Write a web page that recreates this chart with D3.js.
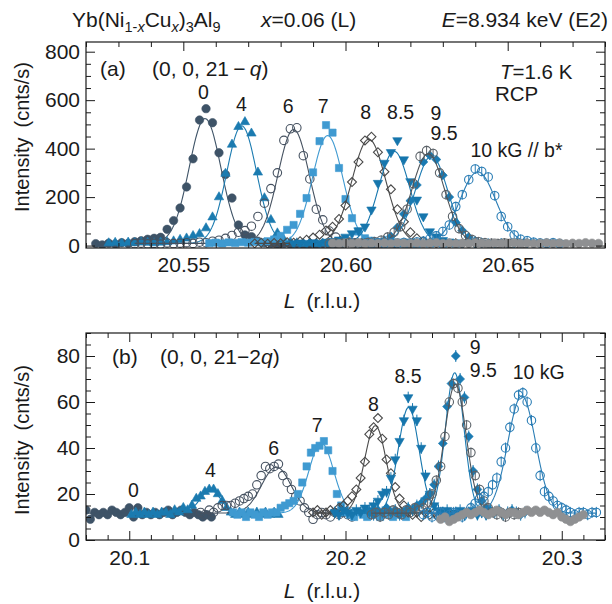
<!DOCTYPE html>
<html>
<head>
<meta charset="utf-8">
<script src="https://cdn.jsdelivr.net/npm/d3@7"></script>
<style>
  body { margin: 0; background: #fff; }
  text { font-family: "Liberation Sans", Arial, Helvetica, sans-serif; fill: #1a1a1a; }
</style>
</head>
<body>
<svg id="chart" width="612" height="604"></svg>
<script>
// ---------- data: [L (r.l.u.), intensity (cnts/s)] ----------
const fields = ['0', '4', '6', '7', '8', '8.5', '9', '9.5', '10', 'bg'];

// panel (a): (0, 0, 21 - q)
const topScan0 = [[20.523,8],[20.525,3],[20.527,10],[20.529,6],[20.531,12],[20.533,9],[20.535,16],[20.537,20],[20.539,26],[20.541,30],[20.543,34],[20.545,67],[20.547,103],[20.549,155],[20.551,242],[20.553,358],[20.555,518],[20.557,565],[20.559,507],[20.561,383],[20.563,293],[20.565,196],[20.567,85],[20.569,44],[20.571,37],[20.573,18],[20.575,12],[20.577,9],[20.579,6],[20.581,8],[20.583,5],[20.585,7],[20.587,4],[20.589,6],[20.591,5],[20.593,7],[20.595,4],[20.597,6]];
const topScan4 = [[20.527,10],[20.529,12],[20.531,9],[20.533,13],[20.535,11],[20.537,14],[20.539,12],[20.541,10],[20.543,13],[20.545,15],[20.547,18],[20.549,24],[20.551,30],[20.553,40],[20.555,48],[20.557,72],[20.559,117],[20.561,200],[20.563,297],[20.565,417],[20.567,490],[20.569,510],[20.571,463],[20.573,302],[20.575,196],[20.577,106],[20.579,51],[20.581,23],[20.583,14],[20.585,10],[20.587,8],[20.589,11],[20.591,7],[20.593,9],[20.595,6],[20.597,8],[20.599,7],[20.601,9],[20.603,6],[20.605,8]];
const topScan6 = [[20.535,8],[20.537,10],[20.539,7],[20.541,9],[20.543,6],[20.545,11],[20.547,8],[20.549,10],[20.551,12],[20.553,9],[20.555,14],[20.557,12],[20.559,18],[20.561,22],[20.563,30],[20.565,42],[20.567,55],[20.569,62],[20.571,80],[20.573,120],[20.575,175],[20.577,235],[20.579,300],[20.581,434],[20.583,482],[20.585,486],[20.587,371],[20.589,275],[20.591,150],[20.593,106],[20.595,60],[20.597,35],[20.599,22],[20.601,15],[20.603,12],[20.605,9],[20.607,11],[20.609,8],[20.611,10],[20.613,7],[20.615,9],[20.617,6],[20.619,8],[20.621,7]];
const topScan7 = [[20.558,10],[20.560,12],[20.562,9],[20.564,13],[20.566,11],[20.568,14],[20.570,12],[20.572,15],[20.574,13],[20.576,18],[20.578,25],[20.580,40],[20.582,65],[20.584,85],[20.586,131],[20.588,196],[20.590,302],[20.592,431],[20.594,497],[20.596,466],[20.598,320],[20.600,192],[20.602,113],[20.604,58],[20.606,30],[20.608,20],[20.610,14],[20.612,11],[20.614,9],[20.616,12],[20.618,8],[20.620,10],[20.622,7],[20.624,9],[20.626,8],[20.628,10],[20.630,7],[20.632,9],[20.634,8]];
const topScan8 = [[20.572,9],[20.574,12],[20.576,8],[20.578,11],[20.580,10],[20.582,14],[20.584,12],[20.586,18],[20.588,24],[20.590,33],[20.592,45],[20.594,62],[20.596,78],[20.598,110],[20.600,165],[20.602,262],[20.604,345],[20.606,434],[20.608,449],[20.610,385],[20.612,305],[20.614,232],[20.616,150],[20.618,98],[20.620,55],[20.622,30],[20.624,18],[20.626,12],[20.628,9],[20.630,11],[20.632,8],[20.634,10],[20.636,7],[20.638,9],[20.640,8]];
const topScan85 = [[20.584,9],[20.586,12],[20.588,10],[20.590,13],[20.592,11],[20.594,15],[20.596,18],[20.598,24],[20.600,36],[20.602,50],[20.604,62],[20.606,78],[20.608,148],[20.610,258],[20.612,341],[20.614,385],[20.616,434],[20.618,355],[20.620,265],[20.622,189],[20.624,120],[20.626,58],[20.628,37],[20.630,22],[20.632,16],[20.634,12],[20.636,10],[20.638,13],[20.640,9],[20.642,11],[20.644,8],[20.646,10],[20.648,12],[20.650,9],[20.652,11],[20.654,8],[20.656,10],[20.658,12],[20.660,9],[20.662,11],[20.664,8],[20.666,10]];
const topScan9 = [[20.596,9],[20.598,12],[20.600,10],[20.602,14],[20.604,11],[20.606,13],[20.608,16],[20.610,14],[20.612,22],[20.614,38],[20.616,75],[20.618,130],[20.620,185],[20.622,250],[20.624,345],[20.626,372],[20.628,355],[20.630,290],[20.632,200],[20.634,95],[20.636,62],[20.638,35],[20.640,20],[20.642,14],[20.644,11],[20.646,9],[20.648,12],[20.650,8],[20.652,10],[20.654,9],[20.656,11],[20.658,8],[20.660,10],[20.662,9],[20.664,11],[20.666,8]];
const topScan95 = [[20.595,8],[20.597,11],[20.599,9],[20.601,12],[20.603,10],[20.605,9],[20.607,13],[20.609,16],[20.611,22],[20.613,35],[20.615,55],[20.617,78],[20.619,150],[20.621,255],[20.623,368],[20.625,392],[20.627,380],[20.629,300],[20.631,210],[20.633,120],[20.635,70],[20.637,42],[20.639,25],[20.641,16],[20.643,12],[20.645,10],[20.647,8],[20.649,11],[20.651,9],[20.653,10],[20.655,8]];
const topScan10 = [[20.608,9],[20.610,11],[20.612,8],[20.614,12],[20.616,10],[20.618,13],[20.620,11],[20.622,15],[20.624,18],[20.626,28],[20.628,40],[20.630,58],[20.632,85],[20.634,161],[20.636,210],[20.638,272],[20.640,316],[20.642,306],[20.644,283],[20.646,206],[20.648,120],[20.650,78],[20.652,44],[20.654,26],[20.656,20],[20.658,14],[20.660,11],[20.662,9],[20.664,12],[20.666,8]];
const topScanBg = [[20.596,10],[20.598,8],[20.600,11],[20.602,9],[20.604,12],[20.606,8],[20.608,10],[20.610,9],[20.612,11],[20.614,8],[20.616,12],[20.618,10],[20.620,9],[20.622,11],[20.624,8],[20.626,10],[20.628,12],[20.630,9],[20.632,11],[20.634,8],[20.636,10],[20.638,9],[20.640,12],[20.642,10],[20.644,8],[20.646,11],[20.648,9],[20.650,10],[20.652,12],[20.654,9],[20.656,11],[20.658,8],[20.660,10],[20.662,12],[20.664,9],[20.666,11],[20.668,8],[20.670,10],[20.672,9],[20.674,12],[20.676,10],[20.678,9]];

// panel (b): (0, 0, 21 - 2q)
const botScan0 = [[20.080,13],[20.082,9],[20.084,12],[20.086,11],[20.088,12],[20.090,11],[20.092,13],[20.094,12],[20.096,11],[20.098,12],[20.100,14],[20.102,10],[20.104,14],[20.106,11],[20.108,12],[20.110,11],[20.112,12],[20.114,11],[20.116,12],[20.118,13],[20.120,11],[20.122,12],[20.124,13],[20.126,12],[20.128,11],[20.130,12],[20.132,11],[20.134,10],[20.136,11],[20.138,10]];
const botScan4 = [[20.101,11],[20.103,12],[20.105,11],[20.107,12],[20.109,11],[20.111,12],[20.113,11],[20.115,12],[20.117,12],[20.119,11],[20.121,13],[20.123,12],[20.125,14],[20.127,13],[20.129,15],[20.131,18],[20.133,19],[20.135,21],[20.137,22],[20.139,22],[20.141,20],[20.143,17],[20.145,14],[20.147,12],[20.149,11],[20.151,12],[20.153,11],[20.155,12],[20.157,11],[20.159,12],[20.161,11],[20.163,12],[20.165,11],[20.167,12],[20.169,11]];
const botScan6 = [[20.133,12],[20.135,11],[20.137,13],[20.139,12],[20.141,14],[20.143,15],[20.145,15],[20.147,15],[20.149,16],[20.151,17],[20.153,18],[20.155,19],[20.157,20],[20.159,24],[20.161,28],[20.163,32],[20.165,31],[20.167,32],[20.169,33],[20.171,28],[20.173,25],[20.175,22],[20.177,19],[20.179,17],[20.181,14],[20.183,12],[20.185,9],[20.187,11],[20.189,12],[20.191,11],[20.193,10],[20.195,12],[20.197,11],[20.199,12],[20.201,11],[20.203,10]];
const botScan7 = [[20.148,12],[20.150,11],[20.152,12],[20.154,10],[20.156,12],[20.158,11],[20.160,10],[20.162,12],[20.164,11],[20.166,12],[20.168,12],[20.170,14],[20.172,15],[20.174,16],[20.176,17],[20.178,20],[20.180,25],[20.182,32],[20.184,38],[20.186,40],[20.188,41],[20.190,43],[20.192,39],[20.194,30],[20.196,20],[20.198,15],[20.200,12],[20.202,11],[20.204,10],[20.206,12],[20.208,11],[20.210,10],[20.212,12],[20.214,11],[20.216,10],[20.218,11],[20.220,12],[20.222,10],[20.224,11],[20.226,12],[20.228,10]];
const botScan8 = [[20.185,12],[20.187,13],[20.189,11],[20.191,12],[20.193,13],[20.195,12],[20.197,14],[20.199,15],[20.201,17],[20.203,19],[20.205,22],[20.207,27],[20.209,34],[20.211,46],[20.213,49],[20.215,53],[20.217,44],[20.219,35],[20.221,29],[20.223,23],[20.225,18],[20.227,15],[20.229,12],[20.231,11],[20.233,12],[20.235,10],[20.237,12],[20.239,11],[20.241,12],[20.243,10],[20.245,11],[20.247,12]];
const botScan85 = [[20.195,12],[20.197,11],[20.199,13],[20.201,12],[20.203,11],[20.205,13],[20.207,12],[20.209,14],[20.211,13],[20.213,15],[20.215,17],[20.217,20],[20.219,21],[20.221,27],[20.223,35],[20.225,43],[20.227,52],[20.229,62],[20.231,57],[20.233,52],[20.235,40],[20.237,28],[20.239,20],[20.241,15],[20.243,13],[20.245,12],[20.247,13],[20.249,11],[20.251,12],[20.253,13],[20.255,11],[20.257,12],[20.259,13],[20.261,11],[20.263,12],[20.265,11],[20.267,12]];
const botScan9 = [[20.211,12],[20.213,11],[20.215,13],[20.217,12],[20.219,14],[20.221,12],[20.223,13],[20.225,11],[20.227,12],[20.229,14],[20.231,13],[20.233,15],[20.235,16],[20.237,18],[20.239,20],[20.241,24],[20.243,32],[20.245,42],[20.247,58],[20.249,68],[20.251,80],[20.253,70],[20.255,62],[20.257,45],[20.259,30],[20.261,22],[20.263,17],[20.265,14],[20.267,13],[20.269,12],[20.271,13],[20.273,11],[20.275,12],[20.277,13],[20.279,12],[20.281,11],[20.283,12]];
const botScan95 = [[20.212,11],[20.214,12],[20.216,10],[20.218,12],[20.220,11],[20.222,13],[20.224,12],[20.226,11],[20.228,13],[20.230,12],[20.232,14],[20.234,13],[20.236,14],[20.238,16],[20.240,20],[20.242,26],[20.244,32],[20.246,45],[20.248,60],[20.250,68],[20.252,66],[20.254,60],[20.256,50],[20.258,38],[20.260,28],[20.262,22],[20.264,17],[20.266,14],[20.268,12],[20.270,11],[20.272,12],[20.274,10],[20.276,12],[20.278,11],[20.280,12]];
const botScan10 = [[20.236,11],[20.238,12],[20.240,10],[20.242,11],[20.244,12],[20.246,10],[20.248,11],[20.250,12],[20.252,11],[20.254,10],[20.256,12],[20.258,14],[20.260,16],[20.262,18],[20.264,19],[20.266,21],[20.268,24],[20.270,27],[20.272,34],[20.274,40],[20.276,49],[20.278,57],[20.280,63],[20.282,64],[20.284,60],[20.286,52],[20.288,40],[20.290,28],[20.292,21],[20.294,19],[20.296,17],[20.298,15],[20.300,14],[20.302,13],[20.304,12],[20.306,11],[20.308,12],[20.310,12],[20.312,11],[20.314,12],[20.316,12]];
const botScanBg = [[20.244,9],[20.246,10],[20.248,8],[20.250,9],[20.252,10],[20.254,11],[20.256,12],[20.258,11],[20.260,12],[20.262,13],[20.264,12],[20.266,11],[20.268,12],[20.270,13],[20.272,12],[20.274,11],[20.276,12],[20.278,12],[20.280,11],[20.282,12],[20.284,13],[20.286,12],[20.288,13],[20.290,12],[20.292,13],[20.294,12],[20.296,11],[20.298,12],[20.300,10],[20.302,9],[20.304,8],[20.306,9],[20.308,10],[20.310,11]];

const topScans = [topScan0, topScan4, topScan6, topScan7, topScan8, topScan85, topScan9, topScan95, topScan10, topScanBg];
const botScans = [botScan0, botScan4, botScan6, botScan7, botScan8, botScan85, botScan9, botScan95, botScan10, botScanBg];

// gaussian fits: centre, amplitude above background, sigma (null = no fit drawn)
const topFitCenter = [20.5567, 20.5680, 20.5840, 20.5945, 20.6072, 20.6150, 20.6265, 20.6255, 20.6408, null];
const topFitAmp    = [515, 485, 470, 445, 430, 380, 360, 370, 295, 0];
const topFitSigma  = [0.0049, 0.0046, 0.0048, 0.0047, 0.0052, 0.0048, 0.0050, 0.0050, 0.0055, 0];
const topFitBg = 9;
const botFitCenter = [20.110, 20.1375, 20.1680, 20.1888, 20.2138, 20.2292, 20.2505, 20.2508, 20.2815, null];
const botFitAmp    = [0, 10, 20, 30.5, 38, 46, 61, 56, 51, 0];
const botFitSigma  = [0.005, 0.0048, 0.0068, 0.0057, 0.0050, 0.0048, 0.0043, 0.0050, 0.0064, 0];
const botFitBg = 11.7;

// error bars (cnts/s), per field
const topErr = [0, 0, 0, 0, 0, 0, 0, 20, 20, 0];
const botErr = [0, 0, 0, 0, 0, 2.5, 2.6, 2.2, 2.4, 0];

// axis ticks
const topXTicks = [20.55, 20.60, 20.65];
const topYTicks = [0, 200, 400, 600, 800];
const botXTicks = [20.1, 20.2, 20.3];
const botYTicks = [0, 20, 40, 60, 80];

// ---------- styles ----------
const markerStyle = [
  { shape: 'circle',  fill: '#3e5367', stroke: '#3e5367', line: '#3e5367' },
  { shape: 'tri',     fill: '#1b7bb0', stroke: '#1b7bb0', line: '#1b7bb0' },
  { shape: 'circle',  fill: '#fff',    stroke: '#465261', line: '#465261' },
  { shape: 'square',  fill: '#3f9ad1', stroke: '#3f9ad1', line: '#3f9ad1' },
  { shape: 'diamond', fill: '#fff',    stroke: '#4a4a4a', line: '#4a4a4a' },
  { shape: 'triDown', fill: '#1676ad', stroke: '#1676ad', line: '#1676ad' },
  { shape: 'diamond', fill: '#1a7ab2', stroke: '#1a7ab2', line: '#1a7ab2' },
  { shape: 'circle',  fill: '#fff',    stroke: '#5b6268', line: '#4f5459' },
  { shape: 'circle',  fill: '#fff',    stroke: '#2a7db5', line: '#2a7db5' },
  { shape: 'circle',  fill: '#8f9092', stroke: '#8f9092', line: null }
];

const symbolFor = {
  circle:  d3.symbol(d3.symbolCircle, 56),
  tri:     d3.symbol(d3.symbolTriangle, 38),
  triDown: d3.symbol(d3.symbolTriangle, 38),
  square:  d3.symbol(d3.symbolSquare, 52),
  diamond: d3.symbol(d3.symbolSquare, 40)
};
const rotateFor = { triDown: 180, diamond: 45 };

const svg = d3.select('#chart');
const plotLeft = 86, plotRight = 605;
const tickFont = 21;

function drawPanel(p) {
  const x = d3.scaleLinear().domain(p.xDomain).range([plotLeft, plotRight]);
  const y = d3.scaleLinear().domain(p.yDomain).range([p.bottom, p.top]);
  const g = svg.append('g');

  g.append('clipPath').attr('id', p.id + '-clip')
    .append('rect')
    .attr('x', plotLeft).attr('y', p.top)
    .attr('width', plotRight - plotLeft).attr('height', p.bottom - p.top);

  const data = g.append('g').attr('clip-path', `url(#${p.id}-clip)`);

  p.scans.forEach((scan, i) => {
    const st = markerStyle[i];
    const sg = data.append('g').attr('class', 'series-' + fields[i]);

    if (p.err[i] > 0) {
      sg.selectAll('line.err')
        .data(scan)
        .join('line')
        .attr('class', 'err')
        .attr('x1', d => x(d[0])).attr('x2', d => x(d[0]))
        .attr('y1', d => y(d[1] - p.err[i])).attr('y2', d => y(d[1] + p.err[i]))
        .attr('stroke', st.stroke).attr('stroke-width', 1);
    }

    const sym = symbolFor[st.shape];
    const rot = rotateFor[st.shape] || 0;
    sg.selectAll('path.pt')
      .data(scan)
      .join('path')
      .attr('class', 'pt')
      .attr('d', sym)
      .attr('transform', d => `translate(${x(d[0])},${y(d[1])}) rotate(${rot})`)
      .attr('fill', st.fill)
      .attr('fill-opacity', st.fill === '#fff' ? 0 : 1)
      .attr('stroke', st.stroke)
      .attr('stroke-width', st.fill === '#fff' ? 1.1 : 0.6);

    if (p.fitCenter[i] !== null && st.line) {
      const [l0, l1] = d3.extent(scan, d => d[0]);
      const c = p.fitCenter[i], a = p.fitAmp[i], s = p.fitSigma[i];
      const fit = d3.range(0, 241).map(k => {
        const L = l0 + (l1 - l0) * k / 240;
        return [L, p.fitBg + a * Math.exp(-((L - c) ** 2) / (2 * s * s))];
      });
      sg.append('path')
        .datum(fit)
        .attr('fill', 'none')
        .attr('stroke', st.line)
        .attr('stroke-width', 1.1)
        .attr('d', d3.line().x(d => x(d[0])).y(d => y(d[1])));
    }
  });

  // axes: inward ticks on all four sides
  const xMinor = d3.range(Math.round(p.xDomain[0] * 100), Math.round(p.xDomain[1] * 100) + 1)
    .map(v => v / 100).filter(v => !p.xTicks.some(t => Math.abs(t - v) < 1e-6));
  const yMinor = d3.range(p.yDomain[0] < 0 ? 0 : p.yDomain[0], p.yDomain[1] + 1e-6, p.yMinorStep)
    .filter(v => !p.yTicks.includes(v));

  const style = ax => {
    ax.select('.domain').remove();
    ax.attr('font-size', tickFont).attr('font-family', null);
    ax.selectAll('line').attr('stroke', '#1a1a1a').attr('stroke-width', 1);
  };

  g.append('g').attr('transform', `translate(0,${p.bottom})`)
    .call(d3.axisBottom(x).tickValues(p.xTicks).tickFormat(d3.format(p.xFmt))
      .tickSize(-9).tickSizeOuter(0).tickPadding(p.xPad)).call(style);
  g.append('g').attr('transform', `translate(0,${p.bottom})`)
    .call(d3.axisBottom(x).tickValues(xMinor).tickFormat('').tickSize(-5).tickSizeOuter(0)).call(style);
  g.append('g').attr('transform', `translate(0,${p.top})`)
    .call(d3.axisTop(x).tickValues(p.xTicks).tickFormat('').tickSize(-9).tickSizeOuter(0)).call(style);
  g.append('g').attr('transform', `translate(0,${p.top})`)
    .call(d3.axisTop(x).tickValues(xMinor).tickFormat('').tickSize(-5).tickSizeOuter(0)).call(style);

  g.append('g').attr('transform', `translate(${plotLeft},0)`)
    .call(d3.axisLeft(y).tickValues(p.yTicks).tickSize(-9).tickSizeOuter(0).tickPadding(6)).call(style);
  g.append('g').attr('transform', `translate(${plotLeft},0)`)
    .call(d3.axisLeft(y).tickValues(yMinor).tickFormat('').tickSize(-5).tickSizeOuter(0)).call(style);
  g.append('g').attr('transform', `translate(${plotRight},0)`)
    .call(d3.axisRight(y).tickValues(p.yTicks).tickFormat('').tickSize(-9).tickSizeOuter(0)).call(style);
  g.append('g').attr('transform', `translate(${plotRight},0)`)
    .call(d3.axisRight(y).tickValues(yMinor).tickFormat('').tickSize(-5).tickSizeOuter(0)).call(style);

  g.append('rect')
    .attr('x', plotLeft).attr('y', p.top)
    .attr('width', plotRight - plotLeft).attr('height', p.bottom - p.top)
    .attr('fill', 'none').attr('stroke', '#1a1a1a').attr('stroke-width', 1.2);

  // peak labels
  p.labels.forEach(lb => {
    g.append('text')
      .attr('x', x(lb.L)).attr('y', y(lb.v))
      .attr('text-anchor', lb.anchor || 'middle')
      .attr('font-size', 19.5)
      .text(lb.t);
  });

  // axis titles
  g.append('text')
    .attr('transform', `translate(29,${p.yTitleMid}) rotate(-90)`)
    .attr('text-anchor', 'middle').attr('font-size', 20)
    .text('Intensity\u2002(cnts/s)');

  const xt = g.append('text')
    .attr('x', 322).attr('y', p.xTitleY)
    .attr('text-anchor', 'middle').attr('font-size', 21);
  xt.append('tspan').attr('font-style', 'italic').text('L');
  xt.append('tspan').attr('dx', 11).text('(r.l.u.)');

  return { x, y, g };
}

const panelA = drawPanel({
  id: 'a', top: 42, bottom: 248,
  xDomain: [20.52, 20.68], yDomain: [-10, 840],
  xTicks: topXTicks, yTicks: topYTicks, yMinorStep: 50, xFmt: '.2f', xPad: 9,
  scans: topScans, err: topErr,
  fitCenter: topFitCenter, fitAmp: topFitAmp, fitSigma: topFitSigma, fitBg: topFitBg,
  xTitleY: 308, yTitleMid: 137,
  labels: [
    { t: '0',   L: 20.5562, v: 606 },
    { t: '4',   L: 20.5679, v: 556 },
    { t: '6',   L: 20.5823, v: 548 },
    { t: '7',   L: 20.5931, v: 548 },
    { t: '8',   L: 20.6062, v: 522 },
    { t: '8.5', L: 20.6170, v: 522 },
    { t: '9',   L: 20.6262, v: 520, anchor: 'start' },
    { t: '9.5', L: 20.6262, v: 434, anchor: 'start' },
    { t: '10 kG // b*', L: 20.6385, v: 366, anchor: 'start' }
  ]
});

const panelB = drawPanel({
  id: 'b', top: 333, bottom: 540,
  xDomain: [20.08, 20.32], yDomain: [0, 90],
  xTicks: botXTicks, yTicks: botYTicks, yMinorStep: 5, xFmt: '.1f', xPad: 10,
  scans: botScans, err: botErr,
  fitCenter: botFitCenter, fitAmp: botFitAmp, fitSigma: botFitSigma, fitBg: botFitBg,
  xTitleY: 598, yTitleMid: 440,
  labels: [
    { t: '0',   L: 20.1019, v: 18.6 },
    { t: '4',   L: 20.1375, v: 27.4 },
    { t: '6',   L: 20.1668, v: 37 },
    { t: '7',   L: 20.1869, v: 47 },
    { t: '8',   L: 20.2129, v: 55.9 },
    { t: '8.5', L: 20.2289, v: 68.3 },
    { t: '9',   L: 20.2575, v: 80.8, anchor: 'start' },
    { t: '9.5', L: 20.2575, v: 70.9, anchor: 'start' },
    { t: '10 kG', L: 20.2773, v: 69.9, anchor: 'start' }
  ]
});

// ---------- header and panel annotations ----------
const headFont = 21, sub = 14.5;
const title = svg.append('text').attr('x', 72).attr('y', 27).attr('font-size', headFont);
title.append('tspan').text('Yb(Ni');
title.append('tspan').attr('font-size', sub).attr('dy', 5).text('1-');
title.append('tspan').attr('font-size', sub).attr('font-style', 'italic').text('x');
title.append('tspan').attr('dy', -5).text('Cu');
title.append('tspan').attr('font-size', sub).attr('dy', 5).attr('font-style', 'italic').text('x');
title.append('tspan').attr('dy', -5).text(')');
title.append('tspan').attr('font-size', sub).attr('dy', 5).text('3');
title.append('tspan').attr('dy', -5).text('Al');
title.append('tspan').attr('font-size', sub).attr('dy', 5).text('9');

const comp = svg.append('text').attr('x', 261).attr('y', 27).attr('font-size', headFont);
comp.append('tspan').attr('font-style', 'italic').text('x');
comp.append('tspan').text('=0.06 (L)');

const energy = svg.append('text').attr('x', 608).attr('y', 27).attr('font-size', headFont).attr('text-anchor', 'end');
energy.append('tspan').attr('font-style', 'italic').text('E');
energy.append('tspan').text('=8.934 keV (E2)');

svg.append('text').attr('x', 100).attr('y', 76).attr('font-size', 21).text('(a)');
const qa = svg.append('text').attr('x', 152).attr('y', 76).attr('font-size', 21);
qa.append('tspan').text('(0, 0, 21\u2009\u2212\u2009');
qa.append('tspan').attr('font-style', 'italic').text('q');
qa.append('tspan').text(')');

const temp = svg.append('text').attr('x', 500).attr('y', 79).attr('font-size', 20.5);
temp.append('tspan').attr('font-style', 'italic').text('T');
temp.append('tspan').text('=1.6 K');
svg.append('text').attr('x', 495).attr('y', 101).attr('font-size', 20.5).text('RCP');

svg.append('text').attr('x', 112).attr('y', 364).attr('font-size', 21).text('(b)');
const qb = svg.append('text').attr('x', 160).attr('y', 364).attr('font-size', 21);
qb.append('tspan').text('(0, 0, 21\u22122');
qb.append('tspan').attr('font-style', 'italic').text('q');
qb.append('tspan').text(')');
</script>
</body>
</html>
